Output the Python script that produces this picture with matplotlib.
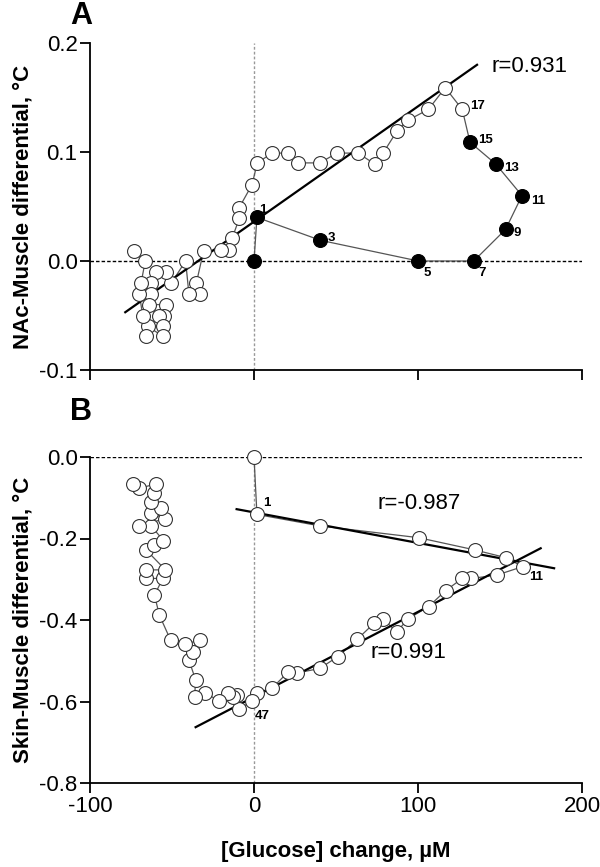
import matplotlib
matplotlib.use("Agg")
import matplotlib.pyplot as plt

plt.rcParams['font.family'] = ['Liberation Sans', 'DejaVu Sans']
plt.rcParams['axes.unicode_minus'] = False

# ---------------- Panel A data ----------------
a_filled_x = [0, 1.8, 40.5, 100.2, 134, 153.4, 163.4, 147.4, 131.7]
a_filled_y = [0, 0.040, 0.019, 0.0, 0.0, 0.029, 0.060, 0.089, 0.109]
a_open_x = [127, 116.6, 106.3, 93.7, 87.1, 78.7, 73.6, 63.4, 50.7, 40.0, 26.8,
            20.7, 11.0, 2.0, -1.2, -9.0, -9.0, -13.3, -15.5, -20.4, -30.7,
            -35.2, -33.1, -39.7, -41.7, -50.5, -53.6, -59.7, -62.8, -62.8,
            -63.8, -53.6, -54.6, -57.7, -55.6, -55.6, -64.8, -65.8, -67.9,
            -69.9, -68.9, -66.3, -73.0]
a_open_y = [0.139, 0.159, 0.139, 0.129, 0.119, 0.099, 0.089, 0.099, 0.099,
            0.090, 0.090, 0.099, 0.099, 0.090, 0.070, 0.049, 0.039, 0.021,
            0.010, 0.010, 0.0095, -0.0205, -0.030, -0.030, 0.0, -0.0205,
            -0.0104, -0.0104, -0.0205, -0.030, -0.040, -0.040, -0.050, -0.050,
            -0.060, -0.069, -0.060, -0.069, -0.050, -0.030, -0.0205, 0.0,
            0.0095]
a_labels = ["1", "3", "5", "7", "9", "11", "13", "15", "17"]
a_label_x = [1.8, 40.5, 100.2, 134, 153.4, 163.4, 147.4, 131.7, 127]
a_label_y = [0.040, 0.019, 0.0, 0.0, 0.029, 0.060, 0.089, 0.109, 0.139]
a_fit_x = [-78.5, 136]
a_fit_y = [-0.047, 0.180]

# ---------------- Panel B data ----------------
b_x = [0, 1.8, 40, 100.4, 134.6, 153.6, 163.8, 147.9, 132.5, 127, 116.8,
       106.5, 93.7, 87.1, 78.7, 73.2, 63, 51.1, 40, 26.2, 21, 10.8, 1.6,
       -1.4, -9, -10.6, -12.7, -15.7, -21.3, -30, -36.2, -35.6, -39.7, -37.2,
       -33.1, -42.3, -50.9, -57.7, -60.7, -55.6, -65.8, -65.8, -54, -65.8,
       -60.7, -55.2, -62.8, -69.9, -54, -62.8, -56.6, -62.8, -60.7, -59.7,
       -70.3, -74]
b_y = [0, -0.141, -0.169, -0.198, -0.228, -0.247, -0.269, -0.290, -0.298,
       -0.298, -0.328, -0.367, -0.398, -0.429, -0.398, -0.408, -0.447,
       -0.490, -0.519, -0.530, -0.527, -0.568, -0.578, -0.599, -0.619,
       -0.584, -0.588, -0.578, -0.599, -0.578, -0.588, -0.547, -0.498,
       -0.479, -0.449, -0.460, -0.449, -0.388, -0.339, -0.298, -0.298,
       -0.277, -0.277, -0.228, -0.216, -0.205, -0.169, -0.169, -0.151,
       -0.138, -0.126, -0.110, -0.089, -0.066, -0.077, -0.066]
b_labels = ["1", "11", "47"]
b_label_x = [1.8, 163.8, -1.4]
b_label_y = [-0.141, -0.269, -0.599]
b_fit1_x = [-10.6, 183]
b_fit1_y = [-0.128, -0.273]
b_fit2_x = [-35.6, 174.8]
b_fit2_y = [-0.663, -0.224]

x_ticks = [-100, 0, 100, 200]
a_yticks = [-0.1, 0.0, 0.1, 0.2]
b_yticks = [-0.8, -0.6, -0.4, -0.2, 0.0]

fig = plt.figure(figsize=(6.0, 8.67), dpi=100)
W, H = 600, 867
axA = fig.add_axes([90 / W, 1 - 370 / H, (582 - 90) / W, (370 - 43) / H])
axB = fig.add_axes([90 / W, 1 - 783 / H, (582 - 90) / W, (783 - 457) / H])

ms = 10
line_kw = dict(color='#555555', lw=0.9, zorder=2)


def style(ax, yticks, ylim, ylabel, xlabels=True):
    ax.set_xlim(-100, 200)
    ax.set_ylim(*ylim)
    for s in ['top', 'right']:
        ax.spines[s].set_visible(False)
    for s in ['left', 'bottom']:
        ax.spines[s].set_linewidth(1.3)
    ax.set_xticks(x_ticks)
    ax.set_yticks(yticks)
    ax.set_yticklabels([f"{v:.1f}" for v in yticks])
    if not xlabels:
        ax.set_xticklabels([])
    ax.tick_params(direction='out', length=7, width=1.3, labelsize=16, pad=2)
    ax.set_ylabel(ylabel, fontsize=16, fontweight='bold', labelpad=4)
    ax.axhline(0, color='black', lw=1.0, ls=(0, (2.5, 1.5)), zorder=1)
    ax.axvline(0, color='#999999', lw=1.0, ls=(0, (2, 1.5)), zorder=1)


# Panel A
style(axA, a_yticks, (-0.1, 0.2), "NAc-Muscle differential, °C", xlabels=False)
axA.plot(a_filled_x + [a_open_x[0]], a_filled_y + [a_open_y[0]], **line_kw)
axA.plot(a_open_x, a_open_y, **line_kw)
axA.plot(a_fit_x, a_fit_y, color='black', lw=1.6, zorder=3)
axA.plot(a_open_x, a_open_y, 'o', ms=ms, mfc='white', mec='#333333', mew=0.8, zorder=4)
axA.plot(a_filled_x, a_filled_y, 'o', ms=ms, mfc='black', mec='black', mew=0.8, zorder=5)
offsA = {"1": (2, 7), "3": (7, 2), "5": (5, -12), "7": (5, -12), "9": (8, -4),
         "11": (9, -5), "13": (8, -4), "15": (8, 2), "17": (8, 3)}
for t, x, y in zip(a_labels, a_label_x, a_label_y):
    dx, dy = offsA[t]
    axA.annotate(t, (x, y), xytext=(dx, dy), textcoords='offset pixels',
                 fontsize=9.5, fontweight='bold', ha='left', va='center', zorder=6)
axA.text(145, 0.178, "r=0.931", fontsize=16, ha='left', va='center')
fig.text(70 / W, 1 - 16 / H, "A", fontsize=22, fontweight='bold', ha='left', va='center')

# Panel B
style(axB, b_yticks, (-0.8, 0.0), "Skin-Muscle differential, °C")
axB.plot(b_x, b_y, **line_kw)
axB.plot(b_fit1_x, b_fit1_y, color='black', lw=1.6, zorder=3)
axB.plot(b_fit2_x, b_fit2_y, color='black', lw=1.6, zorder=3)
axB.plot(b_x, b_y, 'o', ms=ms, mfc='white', mec='#333333', mew=0.8, zorder=4, clip_on=False)
offsB = {"1": (6, 11), "11": (6, -10), "47": (3, -15)}
for t, x, y in zip(b_labels, b_label_x, b_label_y):
    dx, dy = offsB[t]
    axB.annotate(t, (x, y), xytext=(dx, dy), textcoords='offset pixels',
                 fontsize=9.5, fontweight='bold', ha='left', va='center', zorder=6)
axB.text(100.7, -0.115, "r=-0.987", fontsize=16, ha='center', va='center')
axB.text(94, -0.48, "r=0.991", fontsize=16, ha='center', va='center')
axB.set_xlabel("[Glucose] change, µM", fontsize=16, fontweight='bold', labelpad=18)
fig.text(70 / W, 1 - 412 / H, "B", fontsize=22, fontweight='bold', ha='left', va='center')

fig.savefig("out.png", dpi=100)
